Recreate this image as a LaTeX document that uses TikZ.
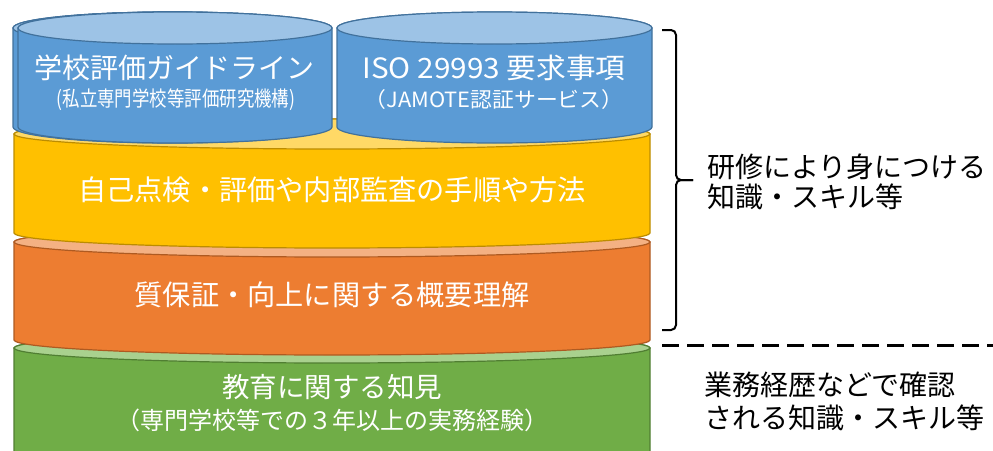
\documentclass[tikz,border=0pt]{standalone}
\usepackage{fontspec}
\setmainfont{Noto Sans CJK JP}
\usepackage{graphicx}
\definecolor{bBody}{HTML}{5B9BD5}
\definecolor{bTop}{HTML}{9DC3E6}
\definecolor{bLine}{HTML}{41719C}
\definecolor{yBody}{HTML}{FFC000}
\definecolor{yTop}{HTML}{FFD966}
\definecolor{yLine}{HTML}{BC8C00}
\definecolor{oBody}{HTML}{ED7D31}
\definecolor{oTop}{HTML}{F4B183}
\definecolor{oLine}{HTML}{AE5A21}
\definecolor{gBody}{HTML}{70AD47}
\definecolor{gTop}{HTML}{A9D18E}
\definecolor{gLine}{HTML}{507E32}
\newcommand\mycyl[8]{%
  \filldraw[fill=#6,draw=#8,line width=1.2pt] (#1-#2,#3) -- (#1-#2,#4)
    arc[start angle=180,end angle=0,x radius=#2,y radius=#5] -- (#1+#2,#3)
    arc[start angle=0,end angle=-180,x radius=#2,y radius=#5] -- cycle;
  \filldraw[fill=#7,draw=#8,line width=1.2pt] (#1,#3) ellipse[x radius=#2,y radius=#5];
}
\tikzset{
  wtext/.style={text=white,inner sep=0pt,align=center},
  ktext/.style={text=black,inner sep=0pt,align=left,anchor=west},
}
\begin{document}
\begin{tikzpicture}[x=1pt,y=-1pt]
\useasboundingbox (0,0) rectangle (993,450);
\clip (0,0) rectangle (993,450);
\fill[white] (0,0) rectangle (993,450);
% layers
\mycyl{332}{318}{348}{462}{15}{gBody}{gTop}{gLine}
\mycyl{332}{318}{242}{340}{15}{oBody}{oTop}{oLine}
\mycyl{332}{318}{134}{233}{15}{yBody}{yTop}{yLine}
\mycyl{170}{157}{28}{127}{16}{bBody}{bTop}{bLine}
\mycyl{175}{157}{28}{127}{16}{bBody}{bTop}{bLine}
\mycyl{494.5}{157.5}{28}{127}{16}{bBody}{bTop}{bLine}
% texts
\node[wtext,font=\fontsize{28}{30}\selectfont] (t1) at (174,68) {学校評価ガイドライン};
\node[wtext,font=\fontsize{21}{24}\selectfont] (t1b) at (176,100) {\scalebox{0.83}[1]{(私立専門学校等評価研究機構)}};
\node[wtext,font=\fontsize{28}{30}\selectfont] (t2) at (494,68) {\scalebox{1.06}[1]{ISO 29993 要求事項}};
\node[wtext,font=\fontsize{21}{24}\selectfont] (t2b) at (494,100) {\scalebox{1.04}[1]{（JAMOTE認証サービス）}};
\node[wtext,font=\fontsize{28.2}{30}\selectfont] (t3) at (332,190) {自己点検・評価や内部監査の手順や方法};
\node[wtext,font=\fontsize{28.2}{30}\selectfont] (t4) at (332,295) {質保証・向上に関する概要理解};
\node[wtext,font=\fontsize{27.5}{30}\selectfont] (t5) at (332,387) {教育に関する知見};
\node[wtext,font=\fontsize{24}{28}\selectfont] (t5b) at (332,420) {（専門学校等での３年以上の実務経験）};
% right labels
\node[ktext,font=\fontsize{28}{30}\selectfont] (r1) at (707,182) {研修により身につける\\知識・スキル等};
\node[ktext,font=\fontsize{28}{33}\selectfont] (r2) at (704,401) {業務経歴などで確認\\される知識・スキル等};
% brace
\coordinate (bt) at (662,30);
\coordinate (bb) at (662,330);
\coordinate (btip) at (693,180);
\draw[line width=2pt,rounded corners=5pt] (bt) -- (676,30) -- (676,180) -- (btip);
\draw[line width=2pt,rounded corners=5pt] (btip) -- (676,180) -- (676,330) -- (bb);
% dashed separator
\coordinate (d1) at (662,345);
\coordinate (d2) at (993,345);
\draw[line width=3pt,dash pattern=on 17pt off 8pt] (d1) -- (d2);
\end{tikzpicture}
\end{document}
